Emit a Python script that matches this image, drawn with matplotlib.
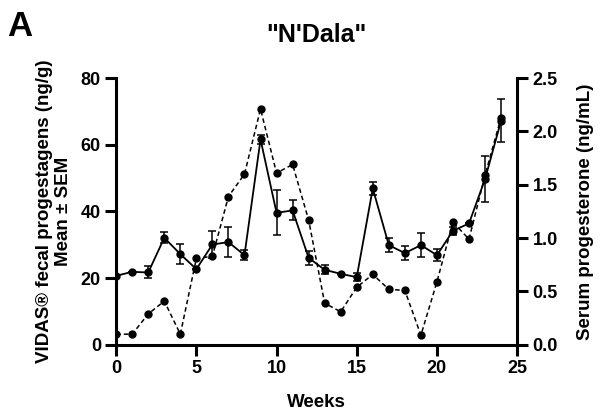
import matplotlib.pyplot as plt

plt.rcParams['font.family'] = ['Liberation Sans', 'DejaVu Sans']
plt.rcParams['font.weight'] = 'bold'

weeks = list(range(25))

# fecal progestagens (ng/g), mean and SEM
fecal = [20.7, 21.9, 21.7, 32.1, 27.2, 22.7, 30.1, 30.8, 26.9, 61.6,
         39.6, 40.3, 26.1, 22.5, 21.3, 20.3, 46.9, 29.9, 27.5, 29.9,
         26.9, 34.2, 36.4, 49.7, 67.2]
fecal_sem = [0, 0, 1.8, 1.6, 3.1, 0, 4.0, 4.6, 1.6, 1.3,
             6.8, 3.0, 2.1, 1.4, 0, 1.3, 1.9, 2.2, 2.2, 3.6,
             1.8, 1.2, 0, 6.9, 6.5]

# serum progesterone (ng/mL)
serum = [0.10, 0.10, 0.29, 0.41, 0.10, 0.81, 0.83, 1.39, 1.60, 2.21,
         1.61, 1.69, 1.17, 0.39, 0.31, 0.54, 0.66, 0.52, 0.51, 0.09,
         0.59, 1.15, 0.99, 1.59, 2.13]

fig = plt.figure(figsize=(6.02, 4.13), dpi=100)
ax = fig.add_axes([0.193, 0.165, 0.666, 0.646])
ax2 = ax.twinx()

ax.errorbar(weeks, fecal, yerr=fecal_sem, color='black', lw=1.3,
            marker='o', ms=5, capsize=3, elinewidth=1.1, capthick=1.1, zorder=3)
ax2.plot(weeks, serum, color='black', lw=1.1, ls=(0, (3, 2)),
         marker='o', ms=5)

ax.set_xlim(0, 25)
ax.set_ylim(0, 80)
ax2.set_ylim(0, 2.5)
ax.set_xticks([0, 5, 10, 15, 20, 25])
ax.set_yticks([0, 20, 40, 60, 80])
ax2.set_yticks([0.0, 0.5, 1.0, 1.5, 2.0, 2.5])
ax2.set_yticklabels(['0.0', '0.5', '1.0', '1.5', '2.0', '2.5'])

for a in (ax, ax2):
    a.spines['top'].set_visible(False)
    for s in a.spines.values():
        s.set_linewidth(2.2)
    a.tick_params(width=2.2, length=8, labelsize=13, pad=3)
ax2.spines['left'].set_visible(False)
ax2.spines['bottom'].set_visible(False)
ax.spines['right'].set_visible(False)

ax.set_xlabel('Weeks', fontsize=13.5, fontweight='bold', labelpad=12)
ax.set_ylabel('VIDAS® fecal progestagens (ng/g)\nMean ± SEM', fontsize=13.5,
              fontweight='bold', labelpad=6)
ax2.set_ylabel('Serum progesterone (ng/mL)', fontsize=13.5, fontweight='bold', labelpad=14)

ax.set_title('"N\'Dala"', fontsize=18, fontweight='bold', pad=26)
fig.text(0.012, 0.975, 'A', fontsize=25, fontweight='bold', va='top')

fig.savefig('out.png', dpi=100)
